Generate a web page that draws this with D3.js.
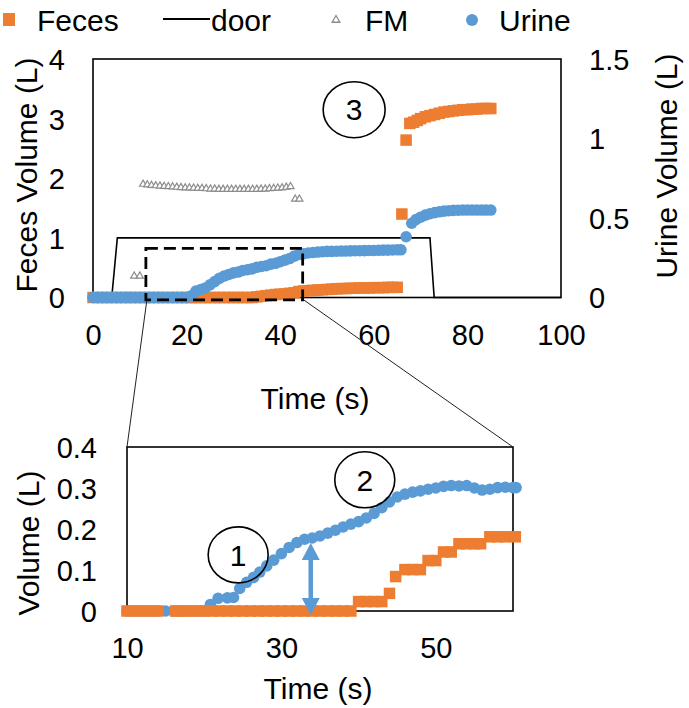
<!DOCTYPE html>
<html><head><meta charset="utf-8">
<script src="https://cdn.jsdelivr.net/npm/d3@7"></script>
<style>
body{margin:0;background:#fff}
svg{display:block;font-family:"Liberation Sans",Arial,sans-serif}
</style>
</head><body>
<svg id="c" width="689" height="708"></svg>
<script>
// ---------- DATA ----------
const mainXTicks = [0, 20, 40, 60, 80, 100];
const leftTicks = [0, 1, 2, 3, 4];
const rightTicks = [0, 0.5, 1, 1.5];
const insetXTicks = [10, 30, 50];
const insetYTicks = [0, 0.1, 0.2, 0.3, 0.4];
const legendNames = ["Feces", "door", "FM", "Urine"];

// main chart: [time s, feces volume L] (left axis)
const mainFeces = [
 [0,0],[1,0],[2,0],[3,0],[4,0],[5,0],[6,0],[7,0],[8,0],[9,0],[10,0],[11,0],[12,0],[13,0],[14,0],[15,0],[16,0],[17,0],[18,0],[19,0],
 [20,0],[21,0],[22,0],[23,0],[24,0],[25,0],[26,0],[27,0],[28,0],[29,0],[30,0],[31,0],[32,0],[33,0],[34,0],
 [35,0.01],[36,0.02],[37,0.03],[38,0.04],[39,0.05],[40,0.055],[41,0.06],[42,0.07],[43,0.08],[44,0.1],
 [45,0.11],[46,0.115],[47,0.12],[48,0.125],[49,0.13],[50,0.135],[51,0.14],[52,0.145],[53,0.15],[54,0.15],
 [55,0.155],[56,0.155],[57,0.16],[58,0.16],[59,0.16],[60,0.165],[61,0.165],[62,0.165],[63,0.17],[64,0.17],[65,0.17],
 [66.0,1.40],[66.9,2.64],[67.7,2.92],[68.5,2.94],[69.3,2.97],[70,3.0],[71,3.03],[72,3.05],[73,3.07],[74,3.09],
 [75,3.11],[76,3.12],[77,3.13],[78,3.14],[79,3.15],[80,3.15],[81,3.16],[82,3.16],[83,3.17],[84,3.17],[85,3.17]
];
// main chart: [time s, urine volume L] (right axis)
const mainUrine = [
 [0,0],[1,0],[2,0],[3,0],[4,0],[5,0],[6,0],[7,0],[8,0],[9,0],[10,0],[11,0],[12,0],[13,0],[14,0],[15,0],[16,0],[17,0],[18,0],[19,0],[20,0],
 [21,0.01],[22,0.04],[23,0.05],[24,0.06],[25,0.08],[26,0.1],[27,0.12],[28,0.135],[29,0.145],[30,0.155],
 [31,0.16],[32,0.17],[33,0.175],[34,0.18],[35,0.19],[36,0.195],[37,0.2],[38,0.21],[39,0.215],[40,0.225],
 [41,0.235],[42,0.245],[43,0.26],[44,0.27],[45,0.275],[46,0.28],[47,0.283],[48,0.286],[49,0.288],[50,0.29],
 [51,0.29],[52,0.291],[53,0.292],[54,0.292],[55,0.293],[56,0.294],[57,0.294],[58,0.295],[59,0.296],[60,0.296],
 [61,0.297],[62,0.298],[63,0.298],[64,0.299],[65,0.3],[65.8,0.3],
 [66.9,0.382],[68.1,0.467],[69,0.49],[70,0.505],[71,0.518],[72,0.527],[73,0.534],[74,0.539],[75,0.543],
 [76,0.546],[77,0.548],[78,0.549],[79,0.55],[80,0.55],[81,0.55],[82,0.55],[83,0.55],[84,0.55],[85,0.55]
];
// main chart: [time s, FM] (left axis)
const mainFM = [
 [8.8,0.36],[10.0,0.36],
 [10.7,1.90],[11.6,1.89],[12.5,1.88],[13.4,1.875],[14.3,1.87],[15.2,1.865],[16.1,1.86],[17.0,1.855],[17.9,1.85],
 [18.8,1.845],[19.7,1.84],[20.6,1.84],[21.5,1.835],[22.4,1.83],[23.3,1.83],[24.2,1.825],[25.1,1.82],[26.0,1.82],
 [26.9,1.815],[27.8,1.815],[28.7,1.815],[29.6,1.815],[30.5,1.815],[31.4,1.815],[32.3,1.815],[33.2,1.815],[34.1,1.815],
 [35.0,1.815],[35.9,1.82],[36.8,1.82],[37.7,1.825],[38.6,1.83],[39.5,1.835],[40.4,1.84],[41.3,1.85],[42.2,1.86],
 [43.2,1.65],[44.1,1.65]
];
// main chart: door line [time s, state] (left axis)
const mainDoor = [[0,0],[4.0,0],[5.2,1],[72.0,1],[72.9,0],[100,0]];

// inset: [time s, urine volume L]
const insetUrine = [
 [10,0],[11,0],[12,0],[13,0],[14,0],[15,0],[16,0],[17,0],[18,0],[19,0],[20,0],
 [20.8,0.016],[21.8,0.031],[23,0.032],[23.8,0.033],[24.6,0.055],[25.5,0.07],[26.4,0.082],[27.2,0.095],[28.1,0.11],
 [29,0.124],[30,0.14],[31,0.155],[32,0.167],[33,0.175],[34,0.178],[35,0.183],[36,0.19],[37,0.197],[38,0.205],
 [39,0.212],[40,0.218],[41,0.227],[42,0.238],[43,0.252],[44,0.266],[45,0.278],[46,0.285],[47,0.29],[48,0.293],
 [49,0.297],[50,0.3],[51,0.304],[52,0.306],[53,0.305],[54,0.306],[55,0.3],[56,0.295],[57,0.297],[58,0.301],
 [59,0.302],[60,0.301],[60.4,0.301]
];
// inset: [time s, feces volume L]
const insetFeces = [
 [10,0],[11,0],[12,0],[13,0],[14,0],[16.3,0],[17,0],[18,0],[19,0],[20,0],[21,0],[22,0],[23,0],[24,0],[25,0],
 [26,0],[27,0],[28,0],[29,0],[30,0],[31,0],[32,0],[33,0],[34,0],[35,0],[36,0],[37,0],[38,0],[39,0],
 [40,0.023],[41,0.023],[42,0.023],[43,0.023],[44,0.043],[44.8,0.084],[46,0.101],[47,0.101],[48,0.101],
 [49,0.123],[50,0.123],[51,0.144],[52,0.144],[53,0.164],[54,0.164],[55,0.164],[55.8,0.164],
 [57,0.181],[58,0.181],[59,0.181],[60.3,0.181]
];
// annotations
const zoomBoxTime = [11.3, 44.8];
const zoomBoxVol = [-0.04, 0.825];
const arrowTime = 33.8;
const arrowVol = [-0.01, 0.166];
const mainLabels = [{t: 55.8, v: 3.15, text: "3"}];
const insetLabels = [{t: 24.4, v: 0.137, text: "1"}, {t: 40.8, v: 0.32, text: "2"}];

// ---------- STYLE ----------
const ORANGE = "#ED7D31", BLUE = "#5B9BD5", GRAY = "#8C8C8C";
const FS = 29;
const svg = d3.select("#c");

// ---------- SCALES ----------
const x = d3.scaleLinear().domain([0, 100]).range([93, 561]);
const yL = d3.scaleLinear().domain([0, 4]).range([297.5, 59]);
const yR = d3.scaleLinear().domain([0, 1.5]).range([297.5, 59]);
const xi = d3.scaleLinear().domain([10, 60]).range([127, 513]);
const yi = d3.scaleLinear().domain([0, 0.4]).range([611, 447]);

function styleAxis(g) {
  g.select(".domain").remove();
  g.selectAll(".tick line").remove();
  g.selectAll("text").attr("font-size", FS).attr("fill", "#000")
   .attr("font-family", '"Liberation Sans",Arial,sans-serif');
}

// ---------- MAIN CHART ----------
// frame
svg.append("rect").attr("x", x(0)).attr("y", yL(4)).attr("width", x(100) - x(0)).attr("height", yL(0) - yL(4))
  .attr("fill", "none").attr("stroke", "#000").attr("stroke-width", 1.6);

// axes
svg.append("g").attr("transform", `translate(0,${yL(0)})`)
  .call(d3.axisBottom(x).tickValues(mainXTicks).tickSize(0).tickFormat(d3.format("d")))
  .call(styleAxis).call(g => g.selectAll("text").attr("y", 37.5).attr("dy", "0.35em"));
svg.append("g").attr("transform", `translate(${x(0)},0)`)
  .call(d3.axisLeft(yL).tickValues(leftTicks).tickSize(0).tickPadding(28).tickFormat(d3.format("d")))
  .call(styleAxis).call(g => g.selectAll("text").attr("dy", "0.36em"));
svg.append("g").attr("transform", `translate(${x(100)},0)`)
  .call(d3.axisRight(yR).tickValues(rightTicks).tickSize(0).tickPadding(28).tickFormat(d => String(d)))
  .call(styleAxis).call(g => g.selectAll("text").attr("dy", "0.36em"));

svg.append("text").attr("x", 315).attr("y", 398).attr("dy", "0.35em").attr("text-anchor", "middle")
  .attr("font-size", 30).text("Time (s)");
svg.append("text").attr("transform", "translate(26,175) rotate(-90)").attr("dy", "0.35em")
  .attr("text-anchor", "middle").attr("font-size", 30).text("Feces Volume (L)");
svg.append("text").attr("transform", "translate(666,166) rotate(-90)").attr("dy", "0.35em")
  .attr("text-anchor", "middle").attr("font-size", 30).text("Urine Volume (L)");

// door line
svg.append("path").datum(mainDoor)
  .attr("d", d3.line().x(d => x(d[0])).y(d => yL(d[1])))
  .attr("fill", "none").attr("stroke", "#000").attr("stroke-width", 1.6);

// FM triangles
const tri = d3.symbol().type(d3.symbolTriangle).size(22);
svg.append("g").selectAll("path").data(mainFM).join("path")
  .attr("d", tri).attr("transform", d => `translate(${x(d[0])},${yL(d[1])})`)
  .attr("fill", "#fff").attr("stroke", GRAY).attr("stroke-width", 1.2);

// feces squares
const SQ = 11.5;
svg.append("g").selectAll("rect").data(mainFeces).join("rect")
  .attr("x", d => x(d[0]) - SQ / 2).attr("y", d => yL(d[1]) - SQ / 2)
  .attr("width", SQ).attr("height", SQ).attr("fill", ORANGE);

// urine circles
svg.append("g").selectAll("circle").data(mainUrine).join("circle")
  .attr("cx", d => x(d[0])).attr("cy", d => yR(d[1])).attr("r", 5.8).attr("fill", BLUE);

// dashed zoom box
svg.append("rect")
  .attr("x", x(zoomBoxTime[0])).attr("y", yL(zoomBoxVol[1]))
  .attr("width", x(zoomBoxTime[1]) - x(zoomBoxTime[0])).attr("height", yL(zoomBoxVol[0]) - yL(zoomBoxVol[1]))
  .attr("fill", "none").attr("stroke", "#000").attr("stroke-width", 2.8).attr("stroke-dasharray", "12,6");

// label 3
mainLabels.forEach(l => {
  svg.append("ellipse").attr("cx", x(l.t)).attr("cy", yL(l.v)).attr("rx", 31).attr("ry", 28)
    .attr("fill", "none").attr("stroke", "#000").attr("stroke-width", 1.6);
  svg.append("text").attr("x", x(l.t)).attr("y", yL(l.v)).attr("dy", "0.36em").attr("text-anchor", "middle")
    .attr("font-size", 30).text(l.text);
});

// ---------- INSET ----------
svg.append("rect").attr("x", xi(10)).attr("y", yi(0.4)).attr("width", xi(60) - xi(10)).attr("height", yi(0) - yi(0.4))
  .attr("fill", "none").attr("stroke", "#000").attr("stroke-width", 1.6);

svg.append("g").attr("transform", `translate(0,${yi(0)})`)
  .call(d3.axisBottom(xi).tickValues(insetXTicks).tickSize(0).tickFormat(d3.format("d")))
  .call(styleAxis).call(g => g.selectAll("text").attr("y", 37).attr("dy", "0.35em"));
svg.append("g").attr("transform", `translate(${xi(10)},0)`)
  .call(d3.axisLeft(yi).tickValues(insetYTicks).tickSize(0).tickPadding(30).tickFormat(d => d === 0 ? "0" : d3.format(".1f")(d)))
  .call(styleAxis).call(g => g.selectAll("text").attr("dy", "0.36em"));

svg.append("text").attr("x", 318).attr("y", 688).attr("dy", "0.35em").attr("text-anchor", "middle")
  .attr("font-size", 30).text("Time (s)");
svg.append("text").attr("transform", "translate(28,543) rotate(-90)").attr("dy", "0.35em")
  .attr("text-anchor", "middle").attr("font-size", 30).text("Volume (L)");

svg.append("g").selectAll("circle").data(insetUrine).join("circle")
  .attr("cx", d => xi(d[0])).attr("cy", d => yi(d[1])).attr("r", 5.8).attr("fill", BLUE);
svg.append("g").selectAll("rect").data(insetFeces).join("rect")
  .attr("x", d => xi(d[0]) - SQ / 2).attr("y", d => yi(d[1]) - SQ / 2)
  .attr("width", SQ).attr("height", SQ).attr("fill", ORANGE);

// double arrow
{
  const ax = xi(arrowTime), yb = yi(arrowVol[0]), yt = yi(arrowVol[1]);
  const hw = 9, hl = 17;
  svg.append("line").attr("x1", ax).attr("x2", ax).attr("y1", yt + hl - 2).attr("y2", yb - hl + 2)
    .attr("stroke", BLUE).attr("stroke-width", 4.5);
  svg.append("path").attr("d", `M${ax},${yt}L${ax - hw},${yt + hl}L${ax + hw},${yt + hl}Z`).attr("fill", BLUE);
  svg.append("path").attr("d", `M${ax},${yb}L${ax - hw},${yb - hl}L${ax + hw},${yb - hl}Z`).attr("fill", BLUE);
}

insetLabels.forEach(l => {
  svg.append("ellipse").attr("cx", xi(l.t)).attr("cy", yi(l.v)).attr("rx", 30).attr("ry", 28)
    .attr("fill", "none").attr("stroke", "#000").attr("stroke-width", 1.6);
  svg.append("text").attr("x", xi(l.t)).attr("y", yi(l.v)).attr("dy", "0.36em").attr("text-anchor", "middle")
    .attr("font-size", 30).text(l.text);
});

// connector lines from zoom box to inset
svg.append("line").attr("x1", x(zoomBoxTime[0]) + 1).attr("y1", yL(zoomBoxVol[0]))
  .attr("x2", xi(10)).attr("y2", yi(0.4)).attr("stroke", "#222").attr("stroke-width", 1);
svg.append("line").attr("x1", x(zoomBoxTime[1]) + 1).attr("y1", yL(zoomBoxVol[0]))
  .attr("x2", xi(60)).attr("y2", yi(0.4)).attr("stroke", "#222").attr("stroke-width", 1);

// ---------- LEGEND ----------
const leg = svg.append("g");
leg.append("rect").attr("x", 3).attr("y", 13).attr("width", 12).attr("height", 13).attr("fill", ORANGE);
leg.append("line").attr("x1", 163).attr("x2", 210).attr("y1", 19).attr("y2", 19).attr("stroke", "#000").attr("stroke-width", 1.8);
leg.append("path").attr("d", d3.symbol().type(d3.symbolTriangle).size(26)).attr("transform", "translate(336,20)")
  .attr("fill", "#fff").attr("stroke", GRAY).attr("stroke-width", 1.3);
leg.append("circle").attr("cx", 472).attr("cy", 20).attr("r", 6).attr("fill", BLUE);
const legX = [37, 211, 365, 499];
leg.selectAll("text").data(legendNames).join("text")
  .attr("x", (d, i) => legX[i]).attr("y", 20).attr("dy", "0.35em").attr("font-size", 30).text(d => d);
</script>
</body></html>
